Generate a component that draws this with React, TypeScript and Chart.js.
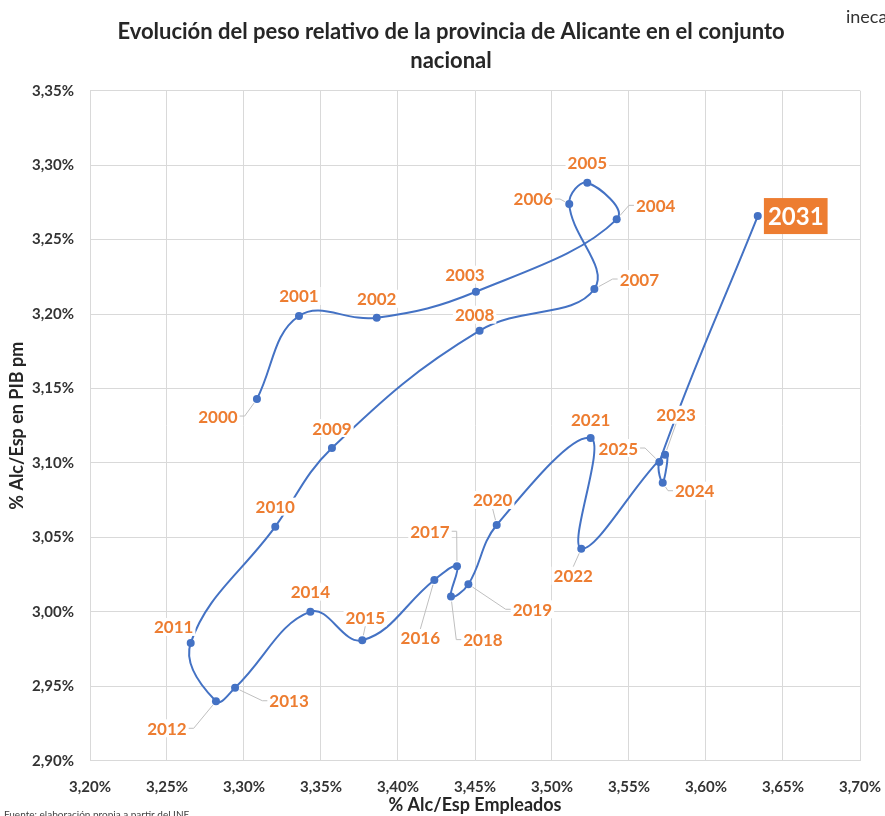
import React, { useEffect, useRef } from 'react';
import { Chart, registerables } from 'chart.js';

Chart.register(...registerables);

// ---- Data ----
const years = ['2000', '2001', '2002', '2003', '2004', '2005', '2006', '2007', '2008', '2009', '2010', '2011', '2012', '2013', '2014', '2015', '2016', '2017', '2018', '2019', '2020', '2021', '2022', '2023', '2024', '2025', '2031'];
const empleados = [3.3084, 3.3357, 3.3862, 3.4506, 3.542, 3.5229, 3.5112, 3.5275, 3.453, 3.3571, 3.3203, 3.2654, 3.2818, 3.2942, 3.3431, 3.3768, 3.4236, 3.4383, 3.4344, 3.4457, 3.4641, 3.5251, 3.519, 3.5734, 3.5719, 3.5697, 3.6336];
const pibPm = [3.1429, 3.1987, 3.1975, 3.215, 3.2636, 3.2882, 3.2739, 3.2168, 3.1888, 3.11, 3.0572, 2.9791, 2.9399, 2.949, 3.0001, 2.9809, 3.0214, 3.0306, 3.0102, 3.0185, 3.0583, 3.1167, 3.0424, 3.1055, 3.0867, 3.1006, 3.2658];
const xTicks = [3.2, 3.25, 3.3, 3.35, 3.4, 3.45, 3.5, 3.55, 3.6, 3.65, 3.7];
const yTicks = [2.9, 2.95, 3.0, 3.05, 3.1, 3.15, 3.2, 3.25, 3.3, 3.35];
const highlightYear = '2031';

// ---- Label layout (pixel offsets from each point) ----
const labelOffsets: [number, number][] = [
  [-39, 17], [0, -20], [0, -19], [-11, -17], [39, -14], [0, -20], [-36, -5], [45, -10], [-5, -16], [0, -20],
  [0, -20], [-17, -16], [-49, 27], [54, 13], [0, -20], [3, -23], [-14, 58], [-27, -35], [32, 43], [64, 25],
  [-4, -25], [0, -19], [-8, 27], [11, -40], [32, 8], [-41, -14], [38, 0],
];
const hasLeader = [true, false, false, false, true, false, true, true, false, false, false, false, true, true, false, true, true, true, true, true, true, false, true, true, true, true, false];

const BLUE = '#4472C4';
const ORANGE = '#ED7D31';
const FONT = 'Lato, "Open Sans", sans-serif';

const fmt = (v: number) => v.toFixed(2).replace('.', ',') + '%';

const overlayPlugin = {
  id: 'overlay',
  afterDatasetsDraw(chart: any) {
    const ctx = chart.ctx as CanvasRenderingContext2D;
    const meta = chart.getDatasetMeta(0);
    ctx.save();
    meta.data.forEach((pt: any, i: number) => {
      const px = pt.x;
      const py = pt.y;
      const cx = px + labelOffsets[i][0];
      const cy = py + labelOffsets[i][1];
      if (years[i] === highlightYear) {
        ctx.font = `bold 24px ${FONT}`;
        const w = ctx.measureText(years[i]).width;
        const bw = w + 8;
        const bh = 36;
        ctx.fillStyle = ORANGE;
        ctx.fillRect(cx - bw / 2, cy - bh / 2, bw, bh);
        ctx.fillStyle = '#FFFFFF';
        ctx.textAlign = 'center';
        ctx.textBaseline = 'middle';
        ctx.fillText(years[i], cx, cy + 1);
        return;
      }
      ctx.font = `bold 17px ${FONT}`;
      const w = ctx.measureText(years[i]).width;
      const hw = w / 2 + 2;
      const hh = 9;
      ctx.fillStyle = '#FFFFFF';
      ctx.fillRect(cx - hw, cy - hh, hw * 2, hh * 2);
      ctx.fillStyle = ORANGE;
      ctx.textAlign = 'center';
      ctx.textBaseline = 'middle';
      ctx.fillText(years[i], cx, cy + 1);
      if (hasLeader[i]) {
        const dxp = px - cx;
        const dyp = py - cy;
        ctx.strokeStyle = '#BFBFBF';
        ctx.lineWidth = 1;
        ctx.beginPath();
        let sx: number, sy: number;
        if (Math.abs(dxp) > hw) {
          const s = Math.sign(dxp);
          sx = cx + s * hw;
          sy = cy;
          ctx.moveTo(sx, sy);
          sx += s * 5;
          ctx.lineTo(sx, sy);
        } else {
          const s = Math.sign(dyp);
          sx = cx;
          sy = cy + s * hh;
          ctx.moveTo(sx, sy);
        }
        const d = Math.hypot(px - sx, py - sy) || 1;
        const ex = px - ((px - sx) / d) * 5;
        const ey = py - ((py - sy) / d) * 5;
        ctx.lineTo(ex, ey);
        ctx.stroke();
      }
    });
    ctx.restore();
  },
  afterDraw(chart: any) {
    const ctx = chart.ctx as CanvasRenderingContext2D;
    const area = chart.chartArea;
    ctx.save();
    ctx.fillStyle = '#262626';
    ctx.textAlign = 'center';
    ctx.textBaseline = 'middle';
    ctx.font = `bold 22px ${FONT}`;
    ctx.fillText('Evolución del peso relativo de la provincia de Alicante en el conjunto', 451, 32);
    ctx.fillText('nacional', 451, 61);
    // axis titles
    ctx.font = `bold 18px ${FONT}`;
    ctx.fillText('% Alc/Esp Empleados', (area.left + area.right) / 2, 805);
    ctx.save();
    ctx.translate(17, (area.top + area.bottom) / 2);
    ctx.rotate(-Math.PI / 2);
    ctx.fillText('% Alc/Esp en PIB pm', 0, 0);
    ctx.restore();
    // source & logo
    ctx.textAlign = 'left';
    ctx.font = `10px ${FONT}`;
    ctx.fillStyle = '#404040';
    ctx.fillText('Fuente: elaboración propia a partir del INE', 4, 815);
    ctx.font = `18px ${FONT}`;
    ctx.fillStyle = '#333333';
    ctx.fillText('ineca', 846, 17);
    ctx.restore();
  },
};

export default function App() {
  const ref = useRef<HTMLCanvasElement | null>(null);
  useEffect(() => {
    if (!ref.current) return;
    const chart = new Chart(ref.current, {
      type: 'scatter',
      data: {
        datasets: [
          {
            data: empleados.map((x, i) => ({ x, y: pibPm[i] })),
            showLine: true,
            borderColor: BLUE,
            backgroundColor: BLUE,
            borderWidth: 2,
            pointRadius: 4,
            pointBorderWidth: 0,
            pointBackgroundColor: BLUE,
            tension: 0.4,
          },
        ],
      },
      options: {
        responsive: false,
        animation: false,
        layout: { padding: { left: 0, top: 90.7, right: 25, bottom: 0 } },
        plugins: { legend: { display: false }, tooltip: { enabled: false }, title: { display: false } },
        scales: {
          x: {
            type: 'linear',
            min: 3.2,
            max: 3.7,
            afterBuildTicks: (s: any) => { s.ticks = xTicks.map((v) => ({ value: v })); },
            afterFit: (s: any) => { s.height = 816 - 760.7; s.paddingLeft = 0; s.paddingRight = 0; },
            grid: { color: '#D9D9D9', lineWidth: 1, drawTicks: false },
            border: { color: '#D9D9D9' },
            ticks: {
              padding: 17,
              color: '#333333',
              font: { family: FONT, size: 15, weight: 'bold' },
              callback: (v: any) => fmt(Number(v)),
              maxRotation: 0,
            },
          },
          y: {
            type: 'linear',
            min: 2.9,
            max: 3.35,
            afterBuildTicks: (s: any) => { s.ticks = yTicks.map((v) => ({ value: v })); },
            afterFit: (s: any) => { s.width = 90; s.paddingTop = 0; s.paddingBottom = 0; },
            grid: { color: '#D9D9D9', lineWidth: 1, drawTicks: false },
            border: { color: '#D9D9D9' },
            ticks: {
              padding: 16,
              color: '#333333',
              font: { family: FONT, size: 15, weight: 'bold' },
              callback: (v: any) => fmt(Number(v)),
            },
          },
        },
      },
      plugins: [overlayPlugin],
    } as any);
    return () => chart.destroy();
  }, []);
  return (
    <div style={{ position: 'absolute', left: 0, top: 0, width: 885, height: 816, background: '#fff' }}>
      <canvas ref={ref} width={885} height={816} style={{ display: 'block', width: 885, height: 816 }} />
    </div>
  );
}
